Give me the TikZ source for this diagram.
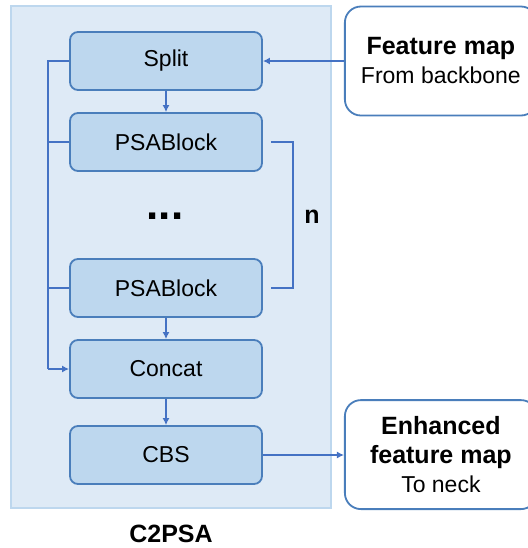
\documentclass[tikz,border=0pt]{standalone}
\usepackage{fontspec}
\setmainfont{Liberation Sans}
\usetikzlibrary{arrows.meta}
\usetikzlibrary{positioning}
\definecolor{panelfill}{HTML}{DEEAF6}
\definecolor{paneledge}{HTML}{BDD7EE}
\definecolor{blockfill}{HTML}{BDD7EE}
\definecolor{blockedge}{HTML}{4A7EBB}
\definecolor{wire}{HTML}{4472C4}
\begin{document}
\begin{tikzpicture}[
            x=1pt, y=1pt,
            node distance=10.6pt,
            block/.style = {draw=blockedge, line width=0.9pt, fill=blockfill, rounded corners=4pt,
                            minimum width=96pt, minimum height=29pt, font=\fontsize{11.5}{13}\selectfont},
            iobox/.style = {draw=blockedge, line width=0.9pt, fill=white, rounded corners=8pt,
                            minimum width=96pt, minimum height=54.5pt, align=center,
                            font=\fontsize{11.5}{14.5}\selectfont},
            wireline/.style = {draw=wire, line width=0.75pt},
            flow/.style = {wireline, -{Latex[length=3.5pt,width=3.5pt]}}
          ]
          \useasboundingbox (0,0) rectangle (264,-274);
          \fill[panelfill, draw=paneledge, line width=0.6pt] (5.5,-3) rectangle (165.5,-254);

          \node[block] (split) at (83,-30.5) {Split};
          \node[below=of split, block] (psa_1) {PSABlock};
          \node[below=of psa_1, yshift=-32.5pt, block] (psa_2) {PSABlock};
          \node[below=of psa_2, block] (concat) {Concat};
          \node[below=of concat, yshift=-2.5pt, block] (cbs) {CBS};

          \node[font=\fontsize{22}{24}\bfseries] (dots) at (82.5,-108) {...};
          \node[font=\fontsize{12.5}{14}\bfseries] (n) at (156,-108.5) {n};
          \node[font=\fontsize{12.5}{14}\bfseries] (title) at (85.5,-267) {C2PSA};

          \node[iobox, anchor=west] (fmap) at (172,-30.5)
            {{\fontsize{12.5}{14.5}\bfseries Feature map}\\From backbone};
          \node[iobox, anchor=west] (emap) at (172,-227.3)
            {{\fontsize{12.5}{15}\bfseries Enhanced}\\{\fontsize{12.5}{15}\bfseries feature map}\\To neck};

          \coordinate (bus_top) at (24,-30.5);
          \coordinate (rep_x) at (146.5,0);

          \draw[flow] (fmap.west) -- (split.east);
          \draw[flow] (split) -- (psa_1);
          \draw[flow] (psa_2) -- (concat);
          \draw[flow] (concat) -- (cbs);
          \draw[flow] (cbs.east) -- (cbs.east -| emap.west);

          \draw[wireline] (split.west) -- (bus_top) -- (bus_top |- concat.west);
          \draw[flow] (bus_top |- concat.west) -- (concat.west);
          \draw[wireline] (psa_1.west) -- (psa_1.west -| bus_top);
          \draw[wireline] (psa_2.west) -- (psa_2.west -| bus_top);

          \draw[wireline] ([xshift=4pt]psa_1.east) -- (rep_x |- psa_1.east) -- (rep_x |- psa_2.east) -- ([xshift=4pt]psa_2.east);
        \end{tikzpicture}
\end{document}
